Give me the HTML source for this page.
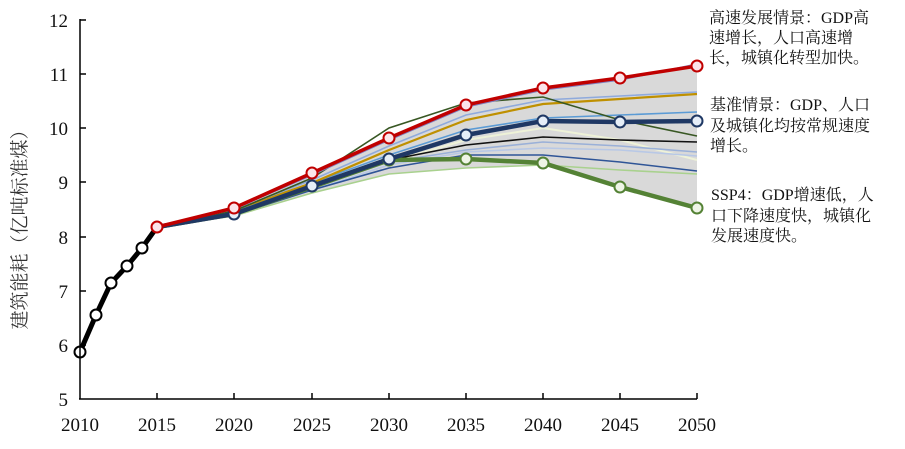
<!DOCTYPE html>
<html><head><meta charset="utf-8"><style>
html,body{margin:0;padding:0;background:#fff;}
svg{display:block}
.t{font-family:"Liberation Serif","Noto Serif CJK SC",serif;font-size:16px;fill:#111}
.ax{font-family:"Liberation Serif",serif;font-size:19px;fill:#111}
</style></head><body>
<svg width="905" height="449" viewBox="0 0 905 449" xmlns="http://www.w3.org/2000/svg">
<polygon fill="#d9d9d9" points="157,227 234,208 312,173 389,138 466,105 543,88 620,78 697,66 697,208 620,187 543,165 466,168 389,174 312,193 234,216"/>
<g fill="none" stroke-width="1.6">
<polyline stroke="#eef2d8" stroke-width="2" points="157,227 234,214 312,188 389,162 466,140 543,128 620,140 697,160"/>
<polyline stroke="#9ab0d8" points="157,227 234,214 312,188 389,162 466,150 543,142 620,146 697,152"/>
<polyline stroke="#b8c8e6" points="157,227 234,215 312,190 389,165 466,152 543,148 620,150 697,156"/>
<polyline stroke="#a9d18e" points="157,227 234,216 312,193 389,174 466,168 543,165 620,170 697,174"/>
<polyline stroke="#2f5597" points="157,227 234,215 312,190 389,168 466,155 543,155 620,162 697,171"/>
<polyline stroke="#111" points="157,227 234,213 312,185 389,160 466,145 543,137 620,140 697,142"/>
<polyline stroke="#5b9bd5" points="157,227 234,212 312,183 389,155 466,130 543,118 620,115 697,112"/>
<polyline stroke="#bf9000" stroke-width="2.2" points="157,227 234,210 312,183 389,150 466,120 543,104 620,99 697,94"/>
<polyline stroke="#8faadc" points="157,227 234,210 312,180 389,146 466,115 543,100 620,96 697,92"/>
<polyline stroke="#385723" points="157,227 234,211 312,178 389,128 466,103 543,97 620,120 697,136"/>
<polyline stroke="#7f7fbf" points="157,227 234,209 312,175 389,140 466,107 543,90 620,80 697,64"/>
</g>
<polyline fill="none" stroke="#548235" stroke-width="4.5" points="157,227 234,214 312,187 389,160 466,159 543,163 620,187 697,208"/>
<polyline fill="none" stroke="#1f3864" stroke-width="4.5" points="157,227 234,214 312,186 389,159 466,135 543,121 620,122 697,121"/>
<polyline fill="none" stroke="#c00000" stroke-width="3.5" points="157,227 234,208 312,173 389,138 466,105 543,88 620,78 697,66"/>
<polyline fill="none" stroke="#000" stroke-width="5" points="80,352 96,315 111,283 127,266 142,248 157,227"/>
<g fill="#fff" stroke="#000" stroke-width="2">
<circle cx="80" cy="352" r="5.5"/><circle cx="96" cy="315" r="5.5"/><circle cx="111" cy="283" r="5.5"/><circle cx="127" cy="266" r="5.5"/><circle cx="142" cy="248" r="5.5"/>
</g>
<g fill="#eef4e6" stroke="#548235" stroke-width="2">
<circle cx="389" cy="160" r="5.5"/><circle cx="466" cy="159" r="5.5"/><circle cx="543" cy="163" r="5.5"/><circle cx="620" cy="187" r="5.5"/><circle cx="697" cy="208" r="5.5"/>
</g>
<g fill="#e6eef8" stroke="#1f3864" stroke-width="2">
<circle cx="234" cy="214" r="5.5"/><circle cx="312" cy="186" r="5.5"/><circle cx="389" cy="159" r="5.5"/><circle cx="466" cy="135" r="5.5"/><circle cx="543" cy="121" r="5.5"/><circle cx="620" cy="122" r="5.5"/><circle cx="697" cy="121" r="5.5"/>
</g>
<g fill="#fbe5ea" stroke="#c00000" stroke-width="2">
<circle cx="157" cy="227" r="5.5"/><circle cx="234" cy="208" r="5.5"/><circle cx="312" cy="173" r="5.5"/><circle cx="389" cy="138" r="5.5"/><circle cx="466" cy="105" r="5.5"/><circle cx="543" cy="88" r="5.5"/><circle cx="620" cy="78" r="5.5"/><circle cx="697" cy="66" r="5.5"/>
</g>
<g stroke="#000" stroke-width="1.5">
<line x1="80" y1="19" x2="80" y2="399"/>
<line x1="79" y1="399" x2="697" y2="399"/>
<line x1="80" y1="20" x2="86" y2="20"/><line x1="80" y1="74" x2="86" y2="74"/><line x1="80" y1="128" x2="86" y2="128"/><line x1="80" y1="182" x2="86" y2="182"/><line x1="80" y1="237" x2="86" y2="237"/><line x1="80" y1="291" x2="86" y2="291"/><line x1="80" y1="345" x2="86" y2="345"/>
<line x1="157" y1="399" x2="157" y2="393"/><line x1="234" y1="399" x2="234" y2="393"/><line x1="312" y1="399" x2="312" y2="393"/><line x1="389" y1="399" x2="389" y2="393"/><line x1="466" y1="399" x2="466" y2="393"/><line x1="543" y1="399" x2="543" y2="393"/><line x1="620" y1="399" x2="620" y2="393"/><line x1="697" y1="399" x2="697" y2="393"/>
</g>
<g class="ax" text-anchor="end">
<text x="68" y="27">12</text><text x="68" y="81">11</text><text x="68" y="135">10</text><text x="68" y="189">9</text><text x="68" y="244">8</text><text x="68" y="298">7</text><text x="68" y="352">6</text><text x="68" y="406">5</text>
</g>
<g class="ax" text-anchor="middle">
<text x="80" y="431">2010</text><text x="157" y="431">2015</text><text x="234" y="431">2020</text><text x="312" y="431">2025</text><text x="389" y="431">2030</text><text x="466" y="431">2035</text><text x="543" y="431">2040</text><text x="620" y="431">2045</text><text x="697" y="431">2050</text>
</g>
<text class="t" transform="translate(26,225) rotate(-90)" text-anchor="middle" style="font-size:19px;fill:#333">建筑能耗（亿吨标准煤）</text>
<g class="t">
<text x="709" y="23">高速发展情景：GDP高</text>
<text x="709" y="43">速增长，人口高速增</text>
<text x="709" y="63">长，城镇化转型加快。</text>
<text x="710" y="110">基准情景：GDP、人口</text>
<text x="710" y="131">及城镇化均按常规速度</text>
<text x="710" y="151">增长。</text>
<text x="711" y="200">SSP4：GDP增速低，人</text>
<text x="711" y="221">口下降速度快，城镇化</text>
<text x="711" y="241">发展速度快。</text>
</g>
</svg>
</body></html>
